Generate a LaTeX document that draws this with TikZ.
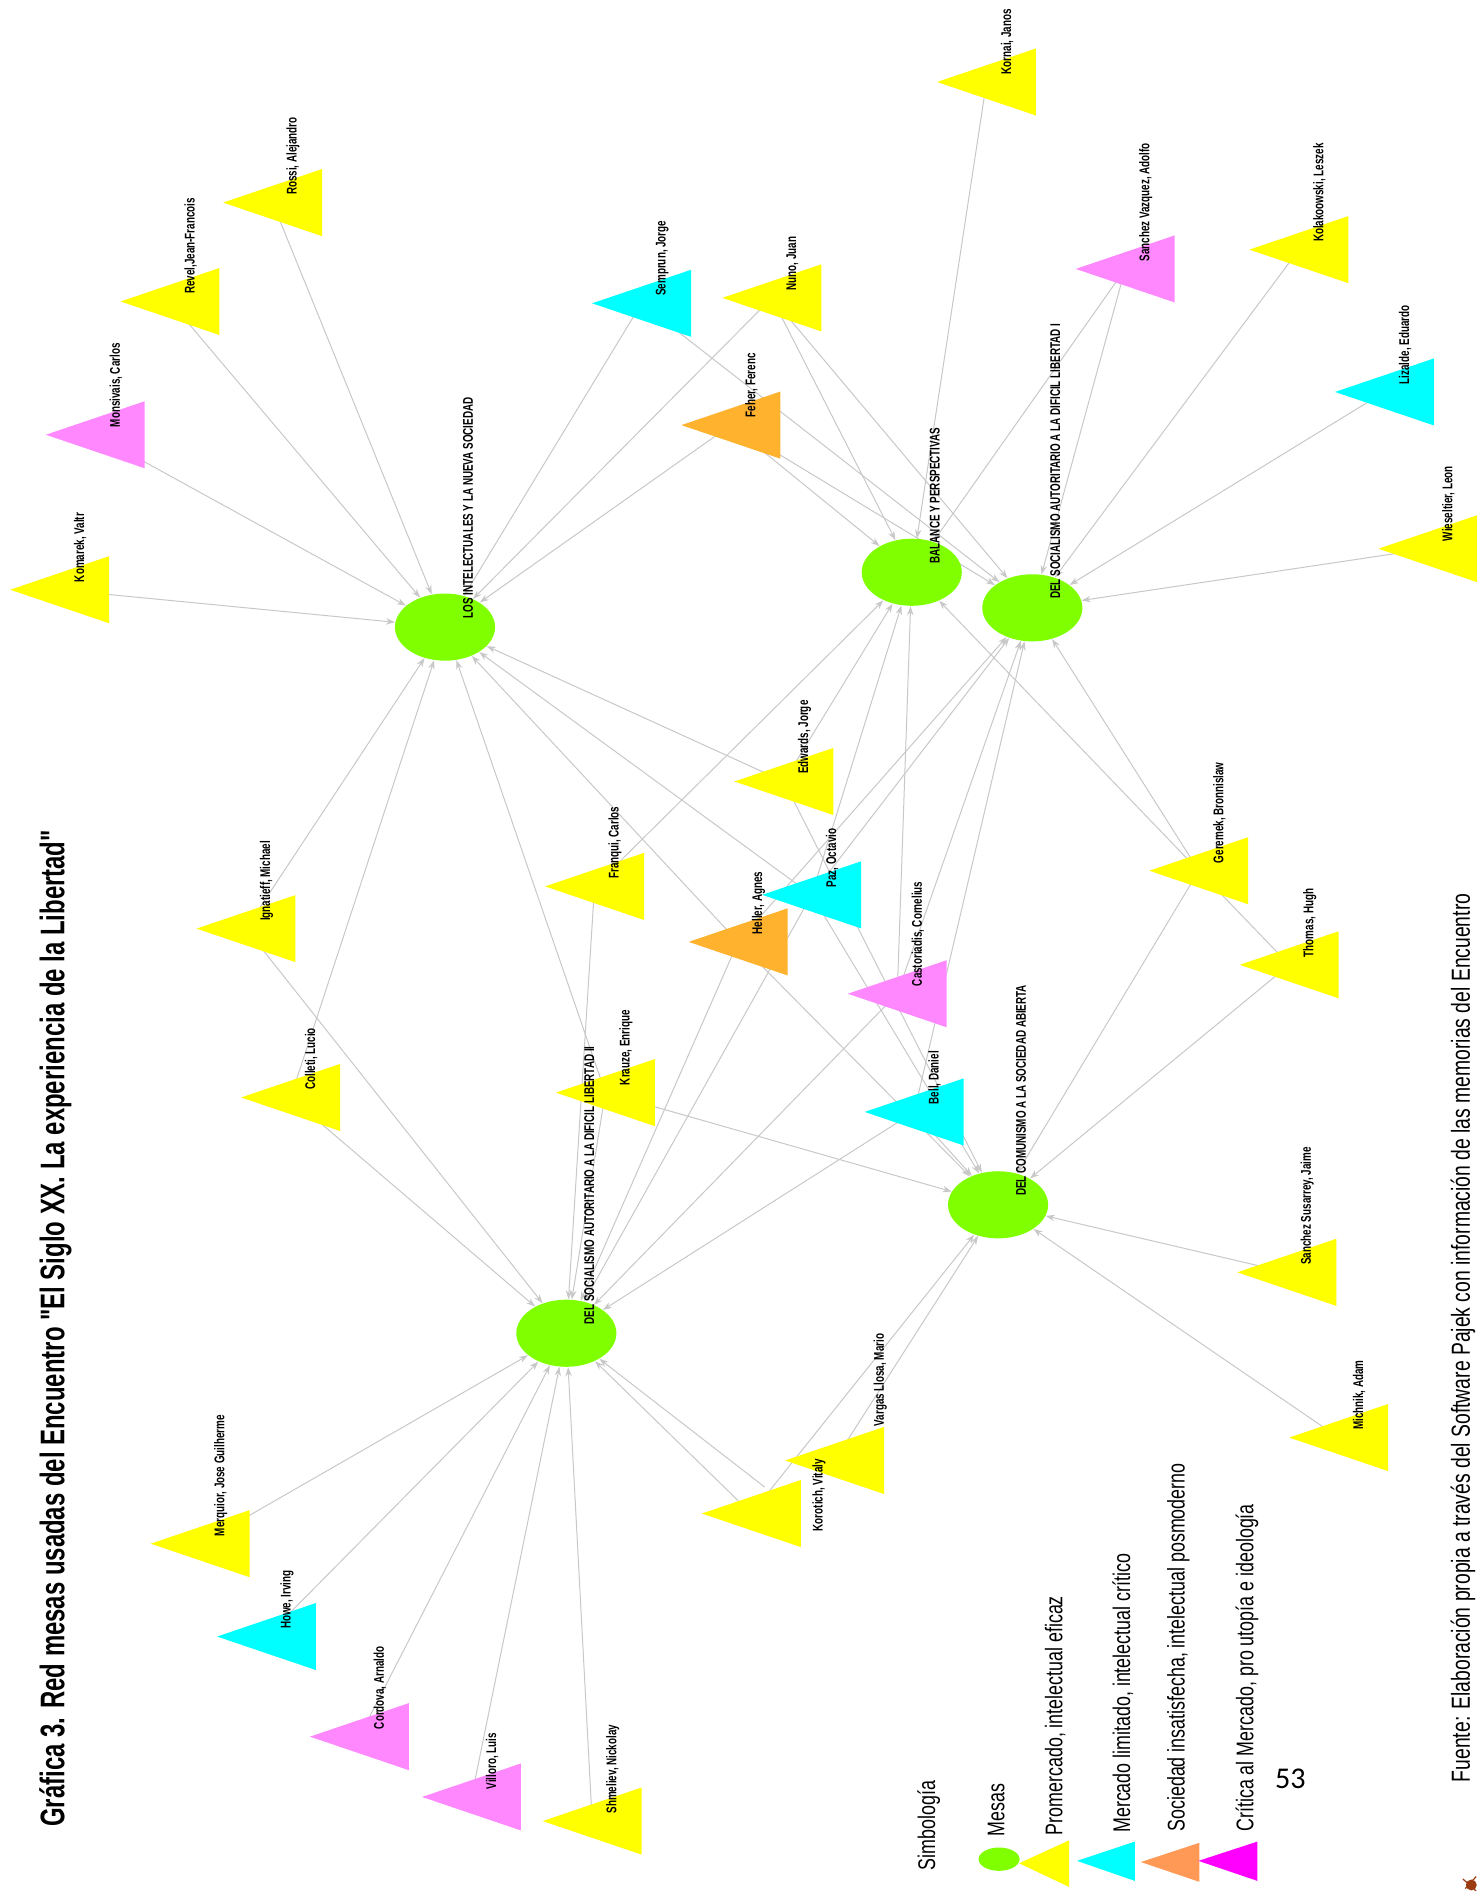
\documentclass[tikz,border=0pt]{standalone}
\usepackage{fontspec}
\setmainfont{Liberation Sans}
\newfontfamily\pajekfont[FakeStretch=0.70]{Liberation Sans}
\newfontfamily\narrowfont[FakeStretch=0.74]{Liberation Sans}
\newfontfamily\titlefont[FakeStretch=0.70]{Liberation Sans}
\newfontfamily\pagefont{Carlito}
\usetikzlibrary{shapes.geometric,arrows.meta}
\pgfdeclarelayer{background}
\pgfsetlayers{background,main}

\definecolor{mesagreen}{HTML}{80FF00}
\definecolor{promercado}{HTML}{FFFF00}
\definecolor{limitado}{HTML}{00FFFF}
\definecolor{insatisfecha}{HTML}{FFB22E}
\definecolor{critica}{HTML}{FF88FF}
\definecolor{keyorange}{HTML}{FF9955}
\definecolor{keymagenta}{HTML}{FF00FF}
\definecolor{edgegray}{HTML}{C8C8C8}
\definecolor{iconbrown}{HTML}{9A3B12}

% name/x/y/colour/label shift x/label shift y/label
\newcommand\personas{%
komarek/49.5/489/promercado/17/-6/{Komarek, Valtr},
monsivais/79/360.5/critica/17/-6/{Monsivais, Carlos},
revel/141/250/promercado/17/-6/{Revel,Jean-Francois},
rossi/226/168/promercado/17/-6/{Rossi, Alejandro},
semprun/532/251.5/limitado/17/-6/{Semprun, Jorge},
nuno/640/247/promercado/17/-6/{Nuno, Juan},
feher/606/352.5/insatisfecha/17/-6/{Feher, Ferenc},
kornai/818/68/promercado/17/-6/{Kornai, Janos},
sanchezv/933/223/critica/17/-6/{Sanchez Vazquez, Adolfo},
kolakowski/1077/207/promercado/17/-6/{Kolakoowski, Leszek},
lizalde/1148/325/limitado/17/-6/{Lizalde, Eduardo},
wieseltier/1184/455/promercado/17/-6/{Wieseltier, Leon},
ignatieff/204/770/promercado/17/-6/{Ignatieff, Michael},
colleti/241/910/promercado/17/-6/{Colleti, Lucio},
franqui/493/735/promercado/17/-6/{Franqui, Carlos},
edwards/650/648/promercado/17/-6/{Edwards, Jorge},
paz/673/742/limitado/17/-6/{Paz, Octavio},
heller/612/781/insatisfecha/17/-6/{Heller, Agnes},
castoriadis/744/824/critica/17/-6/{Castoriadis, Cornelius},
krauze/502/906/promercado/17/-6/{Krauze, Enrique},
bell/758/922/limitado/17/-6/{Bell, Daniel},
geremek/994/722/promercado/17/-6/{Geremek, Bronnislaw},
thomas/1069/800/promercado/17/-6/{Thomas, Hugh},
sanchezs/1067/1055/promercado/17/-6/{Sanchez Susarrey, Jaime},
michnik/1110/1192/promercado/17/-6/{Michnik, Adam},
vargas/692/1211/promercado/38/-28/{Vargas Llosa, Mario},
korotich/623/1255/promercado/56/15/{Korotich, Vitaly},
merquior/166/1280/promercado/17/-6/{Merquior, Jose Guilherme},
howe/221/1357/limitado/17/-6/{Howe, Irving},
cordova/298/1440/critica/17/-6/{Cordova, Arnaldo},
villoro/391/1490/critica/17/-6/{Villoro, Luis},
shmeliev/491/1510/promercado/17/-6/{Shmeliev, Nickolay}}

\begin{document}
\begin{tikzpicture}[x=0.6pt,y=-0.6pt,
    mesa/.style={ellipse,fill=mesagreen,minimum width=49.8pt,minimum height=33.4pt,inner sep=0pt},
    link/.style={edgegray,line width=0.5pt,-{Stealth[length=4.5pt,width=3.2pt]}},
    vlabel/.style={rotate=90,anchor=west,inner sep=0pt,font=\pajekfont\bfseries\fontsize{7}{8}\selectfont},
    keytext/.style={rotate=90,anchor=west,inner sep=0pt,font=\narrowfont\fontsize{12}{14}\selectfont}]
    \useasboundingbox (0,0) rectangle (1224,1568);

    % mesas
    \node[mesa] (li) at (369,520) {};
    \node[mesa] (bal) at (756,474.5) {};
    \node[mesa] (lib1) at (856,504) {};
    \node[mesa] (dcsa) at (827.6,999) {};
    \node[mesa] (dsa2) at (469.6,1105.5) {};

    % intelectuales
    \foreach \nom/\px/\py/\col/\lx/\ly/\txt in \personas {
        \coordinate (\nom) at (\px,\py);
        \fill[\col] (\px-41,\py) -- (\px+41,\py-27.8) -- (\px+41,\py+27.8) -- cycle;
    }

    % participaciones
    \begin{pgfonlayer}{background}
    \foreach \m/\lista in {
        li/{komarek,monsivais,revel,rossi,semprun,nuno,feher,ignatieff,colleti,edwards,paz,heller,krauze},
        bal/{nuno,feher,kornai,sanchezv,franqui,edwards,paz,castoriadis,thomas},
        lib1/{semprun,nuno,feher,sanchezv,kolakowski,lizalde,wieseltier,heller,paz,castoriadis,bell,geremek},
        dcsa/{krauze,heller,edwards,paz,bell,geremek,thomas,sanchezs,michnik,vargas,korotich},
        dsa2/{merquior,howe,cordova,villoro,shmeliev,ignatieff,colleti,franqui,krauze,heller,paz,castoriadis,bell,korotich}}
        \foreach \p in \lista
            \draw[link] (\p) -- (\m);
    \draw[link] ([shift={(11,-22)}]korotich) -- (dsa2);
    \end{pgfonlayer}

    \foreach \nom/\px/\py/\col/\lx/\ly/\txt in \personas
        \node[vlabel] at (\px+\lx,\py+\ly) {\txt};

    \node[vlabel] at ([shift={(19,-7)}]li.center) {LOS INTELECTUALES Y LA NUEVA SOCIEDAD};
    \node[vlabel] at ([shift={(19,-7)}]bal.center) {BALANCE Y PERSPECTIVAS};
    \node[vlabel] at ([shift={(19,-7)}]lib1.center) {DEL SOCIALISMO AUTORITARIO A LA DIFICIL LIBERTAD I};
    \node[vlabel] at ([shift={(19,-7)}]dcsa.center) {DEL COMUNISMO A LA SOCIEDAD ABIERTA};
    \node[vlabel] at ([shift={(19,-7)}]dsa2.center) {DEL SOCIALISMO AUTORITARIO A LA DIFICIL LIBERTAD II};

    % titulo y fuente
    \node[rotate=90,anchor=west,inner sep=0pt,font=\titlefont\bfseries\fontsize{17}{20}\selectfont] (titulo) at (46,1515)
        {Gráfica 3. Red mesas usadas del Encuentro "El Siglo XX. La experiencia de la Libertad"};
    \node[keytext,font=\narrowfont\fontsize{13}{15}\selectfont] (fuente) at (1213,1478)
        {Fuente: Elaboración propia a través del Software Pajek con información de las memorias del Encuentro};
    \node[inner sep=0pt,font=\pagefont\fontsize{15}{18}\selectfont] (pagina) at (1070,1475) {53};

    % simbologia
    \node[keytext] (simbologia) at (770,1551) {Simbología};
    \node[mesa,minimum width=20.4pt,minimum height=11.6pt] (keymesa) at (828.4,1541.6) {};
    \fill[promercado] (845,1545) -- (886.5,1526) -- (886.5,1564.6) -- cycle;
    \fill[limitado] (893,1543) -- (941,1527) -- (941,1559.6) -- cycle;
    \fill[keyorange] (946,1544) -- (994.5,1528) -- (994.5,1560.4) -- cycle;
    \fill[keymagenta] (993.7,1543) -- (1042.6,1527) -- (1042.6,1559.6) -- cycle;
    \node[keytext] at (826,1523) {Mesas};
    \node[keytext] at (875,1522) {Promercado, intelectual eficaz};
    \node[keytext] at (931,1520) {Mercado limitado, intelectual crítico};
    \node[keytext] at (977,1519) {Sociedad insatisfecha, intelectual posmoderno};
    \node[keytext] at (1034,1519) {Crítica al Mercado, pro utopía e ideología};

    % icono
    \fill[iconbrown] (1220,1563) circle (4.5);
    \draw[iconbrown,line width=0.6pt] (1213,1558) -- (1224,1568) (1215,1566) -- (1224,1556);
\end{tikzpicture}
\end{document}
